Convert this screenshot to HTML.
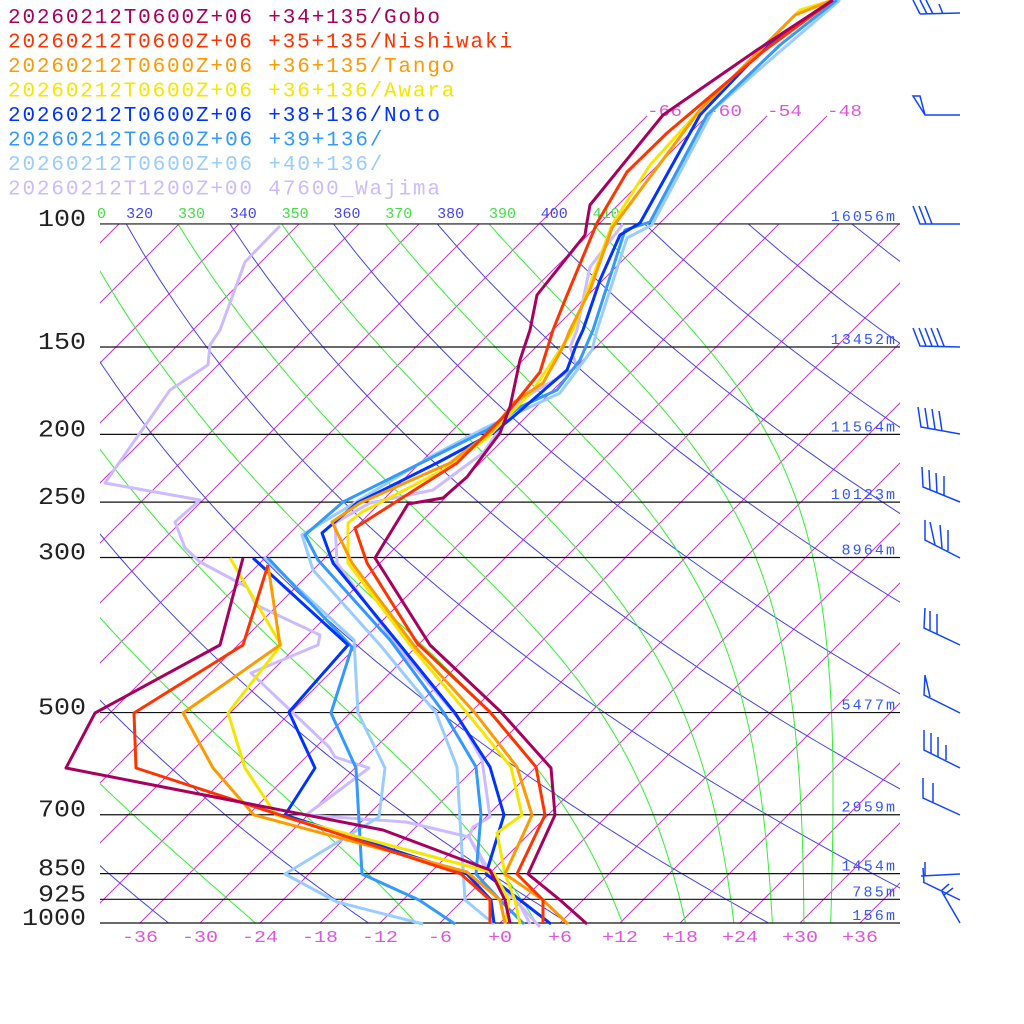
<!DOCTYPE html>
<html><head><meta charset="utf-8">
<style>
html,body{margin:0;padding:0;background:#fff;}
svg{display:block;}
text{font-family:"Liberation Mono","DejaVu Sans Mono",monospace;}
</style></head>
<body>
<svg id="s" width="1024" height="1024" viewBox="0 0 1024 1024" xmlns="http://www.w3.org/2000/svg">
<defs>
<clipPath id="cp"><rect x="100" y="224" width="800" height="699"/></clipPath>
</defs>
<g id="bg" clip-path="url(#cp)"></g>
<g id="iso_top"></g>
<g id="hl"></g>
<g id="lbl"></g>
<g id="data" fill="none" stroke-width="3" stroke-linejoin="round"></g>
<g id="barbs" fill="none" stroke="#1144ff" stroke-width="1.5"></g>
<g id="legend" font-size="21"></g>
</svg>
<script>
function Y(p){return 923-303.6*Math.log(1000/p);}
function X(Tc,y){return 500+10*Tc+(923-y);}
var bg="";
for(var T=-120;T<=60;T+=6){
  bg+='<line x1="'+X(T,923)+'" y1="923" x2="'+X(T,224)+'" y2="224" stroke="#cc33cc" stroke-width="1"/>';
}
var K=0.2854;
for(var th=200;th<=520;th+=20){
  var pts=[];
  for(var p=100;p<=1000;p+=10){var t=th*Math.pow(p/1000,K)-273.15;var y=Y(p);pts.push(X(t,y).toFixed(1)+","+y.toFixed(1));}
  bg+='<polyline points="'+pts.join(" ")+'" fill="none" stroke="#4444ee" stroke-width="1"/>';
}
function es(T){return 6.112*Math.exp(17.67*(T-273.15)/(T-29.65));}
function dT(T,p){var e=es(T);var rs=0.622*e/Math.max(p-e,1);return (287.04*T+2.501e6*rs)/(1005.7+2.501e6*2.501e6*rs*0.622/(287.04*T*T));}
for(var th=250;th<=410;th+=20){
  var p=100,T=th*Math.pow(0.1,K);var pts=[];
  var n=300,h=Math.log(10)/n;
  for(var i=0;i<=n;i++){
    var y=Y(p);pts.push(X(T-273.15,y).toFixed(1)+","+y.toFixed(1));
    var k1=dT(T,p);var p2=p*Math.exp(h);var k2=dT(T+h*k1,p2);T+=h*(k1+k2)/2;p=p2;
  }
  bg+='<polyline points="'+pts.join(" ")+'" fill="none" stroke="#33ee33" stroke-width="1"/>';
}
document.getElementById("bg").innerHTML=bg;
var it="";
[-66,-60,-54,-48].forEach(function(T){
  it+='<line x1="'+X(T,224)+'" y1="224" x2="'+X(T,116)+'" y2="116" stroke="#cc33cc" stroke-width="1"/>';
  it+='<text x="'+X(T,116)+'" y="116" font-size="17" fill="#dd55dd" textLength="35" lengthAdjust="spacingAndGlyphs">'+T+'</text>';
});
document.getElementById("iso_top").innerHTML=it;
var lev=[[100,"100","16056m"],[150,"150","13452m"],[200,"200","11564m"],[250,"250","10123m"],[300,"300","8964m"],[500,"500","5477m"],[700,"700","2959m"],[850,"850","1454m"],[925,"925","785m"],[1000,"1000","156m"]];
var hl="";
lev.forEach(function(l){var y=Y(l[0]);
 hl+='<line x1="100" y1="'+y+'" x2="900" y2="'+y+'" stroke="#111" stroke-width="1.2"/>';
 hl+='<text x="'+(86-l[1].length*16)+'" y="'+(y+2)+'" font-size="24" fill="#222" textLength="'+(l[1].length*16)+'" lengthAdjust="spacingAndGlyphs">'+l[1]+'</text>';
 hl+='<text x="'+(895-l[2].length*10.7)+'" y="'+(y-3)+'" font-size="15" fill="#3355ff" textLength="'+(l[2].length*10.7)+'" lengthAdjust="spacing">'+l[2]+'</text>';
});
document.getElementById("hl").innerHTML=hl;
var lb="";
for(var T=-36;T<=36;T+=6){var t=(T>=0?"+":"")+T;var w=t.length*12;lb+='<text x="'+(500+10*T-w/2)+'" y="942" font-size="17" fill="#dd55dd" textLength="'+w+'" lengthAdjust="spacingAndGlyphs">'+t+'</text>';}
for(var th=310;th<=410;th+=10){var x=X(th*Math.pow(0.1,K)-273.15,224);var c=(th%20==0)?"#4444ee":"#44dd44";
 lb+='<text x="'+Math.max(x,97).toFixed(1)+'" y="218" font-size="15" fill="'+c+'">'+(x<100?String(th).slice(2):th)+'</text>';}
document.getElementById("lbl").innerHTML=lb;
function pl(c,arr){return '<polyline stroke="'+c+'" points="'+arr.map(function(a){return a.join(",")}).join(" ")+'"/>';}
var d="";
var C={gobo:"#a8005e",nishi:"#ff3300",tango:"#ff9900",awara:"#f5e600",noto:"#0033ff",b39:"#3399ff",b40:"#99ccff",waj:"#ccbbff"};
d+=pl(C.waj,[[280,226],[270,236],[245,262],[220,330],[210,345],[208,365],[170,390],[105,483],[200,500],[175,522],[185,548],[200,562],[247,587],[256,605],[320,635],[318,645],[251,673],[329,747],[335,757],[369,768],[306,815],[406,822],[469,837],[488,873],[515,900],[540,927]]);
d+=pl(C.waj,[[623,224],[590,267],[583,300],[577,330],[570,347],[577,367],[520,400],[483,453],[433,490],[370,503],[335,523],[337,563],[400,650],[460,720],[482,760],[490,817],[473,827],[469,837],[495,880],[520,905],[530,924]]);
d+=pl(C.b40,[[264,557],[354,640],[358,713],[385,768],[379,817],[285,874],[337,902],[423,924]]);
d+=pl(C.b40,[[840,0],[770,60],[713,110],[652,225],[627,238],[597,330],[592,350],[560,393],[487,427],[430,457],[302,535],[313,570],[380,645],[436,713],[457,767],[460,820],[465,900],[494,924]]);
d+=pl(C.b39,[[268,558],[352,647],[331,713],[356,768],[362,874],[419,900],[455,924]]);
d+=pl(C.b39,[[837,0],[780,45],[707,115],[650,222],[625,230],[593,330],[580,360],[557,390],[520,407],[487,430],[427,460],[343,502],[305,535],[318,560],[390,640],[444,713],[476,767],[481,815],[476,874],[500,900],[524,924]]);
d+=pl(C.noto,[[253,558],[348,645],[289,712],[315,768],[285,815],[467,874],[491,900],[494,923]]);
d+=pl(C.noto,[[833,0],[760,52],[700,115],[640,223],[620,235],[600,280],[583,330],[577,343],[567,370],[513,417],[493,433],[437,463],[357,503],[322,533],[333,563],[400,645],[455,713],[490,767],[504,815],[486,874],[520,900],[551,924]]);
d+=pl(C.awara,[[230,558],[281,645],[228,713],[245,768],[276,815],[494,873],[509,900],[505,924]]);
d+=pl(C.awara,[[833,0],[800,10],[700,110],[650,165],[612,225],[573,330],[560,350],[533,390],[487,438],[443,470],[362,512],[348,523],[348,563],[410,645],[467,713],[511,767],[522,815],[497,833],[505,874],[515,900],[520,924]]);
d+=pl(C.tango,[[268,565],[280,645],[183,713],[213,768],[254,815],[467,872],[500,900],[505,923]]);
d+=pl(C.tango,[[833,0],[795,15],[700,110],[612,228],[590,290],[570,330],[563,347],[543,383],[513,403],[493,430],[450,463],[360,503],[332,522],[352,563],[415,647],[475,713],[517,767],[532,815],[505,874],[543,900],[568,924]]);
d+=pl(C.nishi,[[268,565],[243,645],[134,713],[136,768],[461,874],[490,900],[490,924]]);
d+=pl(C.nishi,[[833,0],[765,50],[667,133],[627,172],[597,223],[565,300],[553,330],[540,372],[507,413],[480,440],[457,463],[380,512],[355,528],[367,563],[417,643],[490,712],[536,767],[545,815],[517,874],[543,900],[543,924]]);
d+=pl(C.gobo,[[243,558],[220,645],[95,713],[66,768],[383,830],[471,863],[490,870],[505,900],[510,923]]);
d+=pl(C.gobo,[[833,0],[757,50],[663,115],[590,205],[587,222],[585,235],[537,295],[530,330],[520,360],[510,407],[500,433],[467,477],[443,498],[408,504],[375,558],[430,645],[501,712],[551,768],[555,815],[528,874],[560,900],[587,924]]);
document.getElementById("data").innerHTML=d;
var b="";
function P(a){return '<path d="'+a+'"/>';}
b+=P("M960,13 L920,14 M920,14 L913,0 M927,14 L920,0 M933,14 L926,0 M943,14 L939,4");
b+=P("M960,115 L925,115 L913,96 L920,96 L925,115");
b+=P("M960,224 L920,224 L913,206 M926,224 L919,206 M932,224 L925,206");
b+=P("M960,347 L920,346 L913,328 M926,346 L919,328 M932,346 L925,328 M938,346 L931,328 M944,346 L937,328");
b+=P("M960,434 L921,427 L918,407 M928,428 L925,408 M935,429 L932,409 M942,431 L939,411");
b+=P("M960,502 L923,487 L922,467 M930,490 L929,470 M937,493 L936,473 M944,496 L944,476");
b+=P("M960,558 L925,540 L925,520 M935,545 L930,522 M942,548 L940,525 M948,551 L948,530");
b+=P("M960,645 L924,628 L925,608 M930,631 L930,611 M937,634 L937,614");
b+=P("M960,713 L924,695 L925,675 L930,697");
b+=P("M960,768 L924,750 L924,730 M931,753 L931,733 M938,757 L938,737 M946,760 L946,745");
b+=P("M960,815 L923,798 L923,778 M933,803 L933,783");
b+=P("M960,874 L921,876 M925,876 L925,862 M924,883 L923,868");
b+=P("M960,900 L923,882 M941,891 L949,884");
b+=P("M960,923 L942,892 M944,895 L953,888");
document.getElementById("barbs").innerHTML=b;
var L=[["20260212T0600Z+06 +34+135/Gobo",C.gobo],["20260212T0600Z+06 +35+135/Nishiwaki",C.nishi],["20260212T0600Z+06 +36+135/Tango",C.tango],["20260212T0600Z+06 +36+136/Awara",C.awara],["20260212T0600Z+06 +38+136/Noto",C.noto],["20260212T0600Z+06 +39+136/",C.b39],["20260212T0600Z+06 +40+136/",C.b40],["20260212T1200Z+00 47600_Wajima",C.waj]];
var lg="";
L.forEach(function(l,i){lg+='<text x="8" y="'+(23+i*24.5)+'" fill="'+l[1]+'" textLength="'+(l[0].length*14.4)+'" lengthAdjust="spacing">'+l[0]+'</text>';});
document.getElementById("legend").innerHTML=lg;
</script>
</body></html>
